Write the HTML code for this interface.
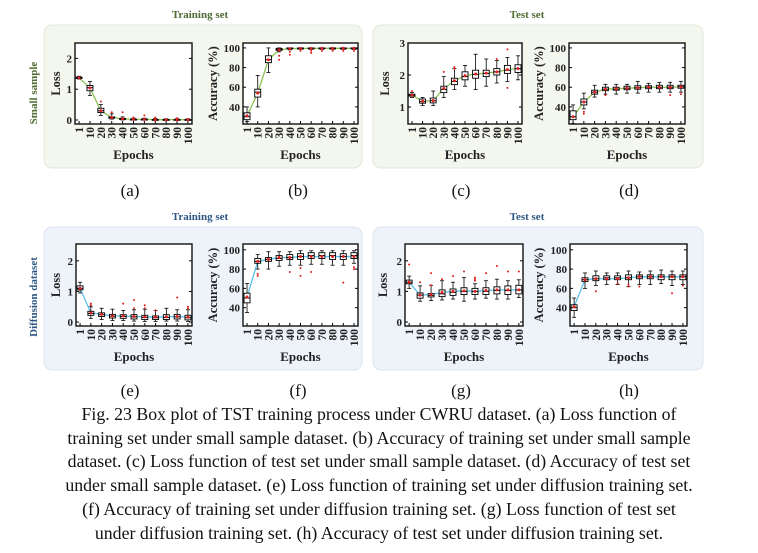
<!DOCTYPE html>
<html><head><meta charset="utf-8">
<style>
html,body{margin:0;padding:0;background:#fff;}
body{width:758px;height:553px;position:relative;overflow:hidden;font-family:"Liberation Serif",serif;}
svg{position:absolute;left:0;top:0;}
.cap{position:absolute;left:0;width:758px;text-align:center;font-size:17.8px;line-height:23.7px;top:403px;color:#111;}
</style></head>
<body>
<svg id="fig" width="758" height="553" viewBox="0 0 758 553"></svg>
<div class="cap">Fig. 23 Box plot of TST training process under CWRU dataset. (a) Loss function of<br>training set under small sample dataset. (b) Accuracy of training set under small sample<br>dataset. (c) Loss function of test set under small sample dataset. (d) Accuracy of test set<br>under small sample dataset. (e) Loss function of training set under diffusion training set.<br>(f) Accuracy of training set under diffusion training set. (g) Loss function of test set<br>under diffusion training set. (h) Accuracy of test set under diffusion training set.</div>
<script>
const epochs = ['1','10','20','30','40','50','60','70','80','90','100'];
// (a)
const aMed=[1.37,1.05,0.3,0.08,0.03,0.02,0.02,0.01,0.01,0.01,0.01];
const aQ1=[1.35,0.95,0.24,0.06,0.02,0.01,0.01,0.0,0.0,0.0,0.0];
const aQ3=[1.39,1.12,0.38,0.1,0.05,0.03,0.03,0.02,0.02,0.02,0.02];
const aLo=[1.33,0.8,0.15,0.03,0.0,0.0,0.0,0.0,0.0,0.0,0.0];
const aHi=[1.42,1.25,0.5,0.2,0.1,0.06,0.06,0.05,0.04,0.04,0.04];
const aMean=[1.37,1.04,0.3,0.08,0.04,0.02,0.02,0.01,0.01,0.01,0.01];
const aOut=[[],[],[0.6],[0.25],[0.25],[0.08],[0.15],[0.08],[],[0.06],[]];
// (b)
const bMed=[30,55,88,98.5,99.5,99.8,99.8,99.8,99.8,99.8,99.8];
const bQ1=[27,50,85,97.5,99,99.3,99.3,99.3,99.3,99.3,99.3];
const bQ3=[34,58,92,99.5,100,100,100,100,100,100,100];
const bLo=[25,40,75,96,98,98.5,98.5,98.5,98.5,98.5,98.5];
const bHi=[40,72,100,100,100,100,100,100,100,100,100];
const bMean=[31,54,88,98,99.3,99.5,99.5,99.6,99.6,99.6,99.6];
const bOut=[[],[],[],[88,92],[93,96],[97],[95,97],[97],[97],[97],[97]];
// (c)
const cMed=[1.37,1.17,1.2,1.55,1.8,1.95,2.02,2.05,2.1,2.15,2.2];
const cQ1=[1.34,1.12,1.13,1.45,1.7,1.85,1.9,1.95,2.0,2.05,2.08];
const cQ3=[1.4,1.25,1.28,1.65,1.9,2.1,2.15,2.15,2.2,2.3,2.32];
const cLo=[1.3,1.05,1.05,1.3,1.55,1.65,1.55,1.65,1.75,1.8,1.85];
const cHi=[1.45,1.3,1.5,1.95,2.2,2.3,2.65,2.5,2.45,2.55,2.6];
const cMean=[1.37,1.18,1.2,1.58,1.82,1.98,2.03,2.06,2.1,2.17,2.2];
const cOut=[[1.5],[],[],[2.1],[2.25,2.2],[],[],[],[2.5],[2.8,1.6],[]];
// (d)
const dMed=[30,45,55,58,58,59,59.5,60,60,60,60.5];
const dQ1=[27,42,53,56.5,57,57.5,58,58.5,58.5,58.5,59];
const dQ3=[36,48,57,60,60,61,61.5,61.5,62,62,62];
const dLo=[23,38,50,53,53,54,54,55,55,55,55];
const dHi=[42,54,62,63,63,63,66,64,65,65,66];
const dMean=[30,45,55,58,58.5,59,59.5,60,60,60,60.5];
const dOut=[[],[33,35],[],[52],[],[],[],[],[],[52],[53]];
// (e)
const eMed=[1.1,0.28,0.24,0.19,0.18,0.17,0.15,0.14,0.15,0.17,0.14];
const eQ1=[1.05,0.22,0.18,0.13,0.12,0.1,0.08,0.08,0.08,0.1,0.07];
const eQ3=[1.18,0.35,0.3,0.25,0.24,0.24,0.22,0.2,0.24,0.25,0.22];
const eLo=[0.95,0.12,0.08,0.05,0.05,0.03,0.02,0.02,0.03,0.03,0.02];
const eHi=[1.3,0.5,0.45,0.42,0.38,0.4,0.42,0.38,0.45,0.4,0.4];
const eMean=[1.1,0.3,0.25,0.2,0.2,0.18,0.17,0.16,0.17,0.18,0.16];
const eOut=[[],[0.6,0.55],[],[],[0.6],[0.72,0.45],[0.55,0.45],[0.38],[],[0.8],[0.5,0.45]];
// (f)
const fMed=[50,88,90,91,92,93,94,94,94,93,94];
const fQ1=[45,86,88,89,90,90,91,91,90,90,91];
const fQ3=[55,91,92,94,95,96,97,97,97,96,97];
const fLo=[35,80,80,83,84,84,85,85,84,84,86];
const fHi=[65,95,98,98,98,99,99,99,99,99,99];
const fMean=[51,88,90,92,92,93,93,93,93,93,93];
const fOut=[[],[75,73],[],[],[77],[73,81],[77],[],[],[66],[82,80]];
// (g)
const gMed=[1.3,0.88,0.87,0.92,0.97,1.0,1.0,1.0,1.03,1.03,1.05];
const gQ1=[1.25,0.78,0.82,0.83,0.87,0.9,0.9,0.9,0.92,0.9,0.92];
const gQ3=[1.37,0.95,0.93,1.05,1.08,1.12,1.1,1.12,1.15,1.18,1.2];
const gLo=[1.1,0.68,0.7,0.72,0.75,0.68,0.75,0.78,0.75,0.75,0.8];
const gHi=[1.5,1.18,1.2,1.35,1.3,1.45,1.25,1.35,1.4,1.35,1.38];
const gMean=[1.3,0.88,0.9,0.97,1.0,1.02,1.0,1.03,1.05,1.05,1.05];
const gOut=[[1.88],[1.3],[1.6,1.2],[1.4],[1.5],[1.65],[1.45,1.4,1.35],[1.6],[1.83],[1.65],[1.65]];
// (h)
const hMed=[40,69,70,71,71,71,72,72,72,72,72];
const hQ1=[37,67,68,69,69,69,70,70,69,69,69];
const hQ3=[43,71,73,73,73,74,74,74,74,74,74];
const hLo=[30,60,63,64,64,62,64,64,65,63,64];
const hHi=[50,76,78,76,76,78,77,78,79,78,78];
const hMean=[41,69,70,70,70,71,72,72,72,72,72];
const hOut=[[],[],[57],[],[65],[62,64],[62],[],[],[55],[63]];
const lossTicks=['0','1','2'];
const lossTicksC=['1','2','3'];
const accTicks=['40','60','80','100'];

const NS='http://www.w3.org/2000/svg';
const svg=document.getElementById('fig');
function mk(tag,attrs,parent,text){const e=document.createElementNS(NS,tag);for(const k in attrs)e.setAttribute(k,attrs[k]);if(text!==undefined)e.textContent=text;(parent||svg).appendChild(e);return e;}

const bgs=[[44,25,318,143,'#f4f7ee','#e2e8d6','top-left-group'],[373,25,330,143,'#f4f7ee','#e2e8d6','top-right-group'],
[44,227,318,143,'#eef3fa','#dbe4f0','bottom-left-group'],[373,227,330,143,'#eef3fa','#dbe4f0','bottom-right-group']];
bgs.forEach(b=>{const r=mk('rect',{x:b[0],y:b[1],width:b[2],height:b[3],rx:8,fill:b[4],stroke:b[5]});

});

function txt(x,y,s,opts){const t=mk('text',Object.assign({x:x,y:y,'font-family':'Liberation Serif, serif'},opts||{}),svg,s);return t;}
let t;
t=txt(200,18,'Training set',{'font-size':11,'font-weight':'bold',fill:'#4d6b33','text-anchor':'middle'});
t=txt(527,18,'Test set',{'font-size':11,'font-weight':'bold',fill:'#4d6b33','text-anchor':'middle'});
t=txt(200,220,'Training set',{'font-size':11,'font-weight':'bold',fill:'#2e5784','text-anchor':'middle'});
t=txt(527,220,'Test set',{'font-size':11,'font-weight':'bold',fill:'#2e5784','text-anchor':'middle'});
t=txt(0,0,'Small sample',{'font-size':11,'font-weight':'bold',fill:'#4d6b33','text-anchor':'middle',transform:'translate(37,93) rotate(-90)'});
t=txt(0,0,'Diffusion dataset',{'font-size':11,'font-weight':'bold',fill:'#2e5784','text-anchor':'middle',transform:'translate(37,297) rotate(-90)'});

const subs=[['(a)',130,196],['(b)',298,196],['(c)',461,196],['(d)',629,196],['(e)',130,396],['(f)',298,396],['(g)',461,396],['(h)',629,396]];
subs.forEach(s=>{const e=txt(s[1],s[2],s[0],{'font-size':17,'text-anchor':'middle',fill:'#111'});

});

function panel(id,box,ylim,ticks,ylabel,ylx,d,lineColor){
  const [L,T,R,B]=box;
  const g=mk('g',{});
  
  
  const ys=v=>B-(v-ylim[0])/(ylim[1]-ylim[0])*(B-T);
  const n=epochs.length;
  const pad=(R-L)*0.035;
  const xs=i=>L+pad+i*(R-L-2*pad)/(n-1);
  mk('rect',{x:L,y:T,width:R-L,height:B-T,fill:'#fff'},g);
  ticks.forEach(tk=>{const v=parseFloat(tk);const y=ys(v);
    mk('line',{x1:L,x2:L+3,y1:y,y2:y,stroke:'#000','stroke-width':1},g);
    mk('line',{x1:R,x2:R-3,y1:y,y2:y,stroke:'#000','stroke-width':1},g);
    const e=mk('text',{x:L-3,y:y+4,'text-anchor':'end','font-size':11,'font-weight':'bold','font-family':'Liberation Serif, serif',fill:'#222'},g,tk);
    
    
  });
  epochs.forEach((ep,i)=>{const x=xs(i);
    mk('line',{x1:x,x2:x,y1:B,y2:B-3,stroke:'#000','stroke-width':1},g);
    const e=mk('text',{x:0,y:0,'text-anchor':'end','font-size':11.5,'font-weight':'bold','font-family':'Liberation Serif, serif',fill:'#222',transform:`translate(${x+4},${B+3}) rotate(-90)`},g,ep);
    
    
  });
  const pts=d.mean.map((v,i)=>xs(i)+','+ys(v)).join(' ');
  const pl=mk('polyline',{points:pts,fill:'none',stroke:lineColor,'stroke-width':1.3},g);
  
  
  const bw=6;
  for(let i=0;i<n;i++){const x=xs(i);
    const bg=mk('g',{},g);
    
    
    mk('line',{x1:x,x2:x,y1:ys(d.hi[i]),y2:ys(d.q3[i]),stroke:'#000','stroke-width':0.8},bg);
    mk('line',{x1:x,x2:x,y1:ys(d.q1[i]),y2:ys(d.lo[i]),stroke:'#000','stroke-width':0.8},bg);
    mk('line',{x1:x-2,x2:x+2,y1:ys(d.hi[i]),y2:ys(d.hi[i]),stroke:'#000','stroke-width':0.8},bg);
    mk('line',{x1:x-2,x2:x+2,y1:ys(d.lo[i]),y2:ys(d.lo[i]),stroke:'#000','stroke-width':0.8},bg);
    const y3=ys(d.q3[i]),y1=ys(d.q1[i]);
    mk('rect',{x:x-bw/2,y:y3,width:bw,height:Math.max(1,y1-y3),fill:'#fff',stroke:'#000','stroke-width':0.9},bg);
    mk('line',{x1:x-bw/2,x2:x+bw/2,y1:ys(d.med[i]),y2:ys(d.med[i]),stroke:'#000','stroke-width':1},bg);
    d.out[i].forEach(o=>{const c=mk('circle',{cx:x,cy:ys(o),r:1,fill:'#e02020'},bg);
      
      });
    const m=mk('circle',{cx:x,cy:ys(d.mean[i]),r:1.5,fill:'#e02020'},bg);
    
    
  }
  mk('rect',{x:L,y:T,width:R-L,height:B-T,fill:'none',stroke:'#111','stroke-width':1.4},g);
  const yl=mk('text',{x:0,y:0,'text-anchor':'middle','font-size':12.5,'font-weight':'bold','font-family':'Liberation Serif, serif',fill:'#222',transform:`translate(${ylx},${(T+B)/2}) rotate(-90)`},g,ylabel);
  
  
  const xl=mk('text',{x:(L+R)/2,y:(T<200?159:361),'text-anchor':'middle','font-size':13,'font-weight':'bold','font-family':'Liberation Serif, serif',fill:'#222'},g,'Epochs');
  
  
}
panel('a',[75,43,192,124],[-0.13,2.5],lossTicks,'Loss',60,{med:aMed,q1:aQ1,q3:aQ3,lo:aLo,hi:aHi,mean:aMean,out:aOut},'#8cc152');
panel('b',[243,43,358,124],[22.6,105],accTicks,'Accuracy (%)',217,{med:bMed,q1:bQ1,q3:bQ3,lo:bLo,hi:bHi,mean:bMean,out:bOut},'#8cc152');
panel('c',[408,43,522,124],[0.47,3],lossTicksC,'Loss',389,{med:cMed,q1:cQ1,q3:cQ3,lo:cLo,hi:cHi,mean:cMean,out:cOut},'#8cc152');
panel('d',[569,43,685,124],[22.6,105],accTicks,'Accuracy (%)',543,{med:dMed,q1:dQ1,q3:dQ3,lo:dLo,hi:dHi,mean:dMean,out:dOut},'#8cc152');
panel('e',[76,244,192,326],[-0.13,2.55],lossTicks,'Loss',60,{med:eMed,q1:eQ1,q3:eQ3,lo:eLo,hi:eHi,mean:eMean,out:eOut},'#5bc0eb');
panel('f',[243,244,358,326],[21,106],accTicks,'Accuracy (%)',217,{med:fMed,q1:fQ1,q3:fQ3,lo:fLo,hi:fHi,mean:fMean,out:fOut},'#5bc0eb');
panel('g',[405,244,523,326],[-0.13,2.55],lossTicks,'Loss',387,{med:gMed,q1:gQ1,q3:gQ3,lo:gLo,hi:gHi,mean:gMean,out:gOut},'#5bc0eb');
panel('h',[570,244,687,326],[21,106],accTicks,'Accuracy (%)',543,{med:hMed,q1:hQ1,q3:hQ3,lo:hLo,hi:hHi,mean:hMean,out:hOut},'#5bc0eb');
</script>
</body></html>
